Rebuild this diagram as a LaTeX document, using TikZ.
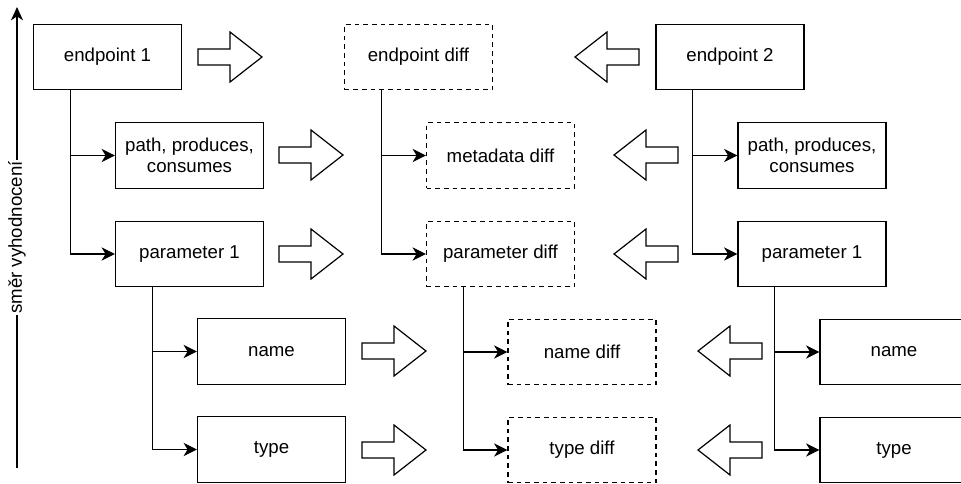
\documentclass[tikz,border=0pt]{standalone}
\usepackage{fontspec}
\setmainfont{Liberation Sans}
\usetikzlibrary{arrows.meta,calc}

\begin{document}
\begin{tikzpicture}[x=0.75pt, y=-0.75pt, line width=0.9pt,
		box/.style={draw, minimum width=111pt, minimum height=49pt, inner sep=0pt, align=center, font=\fontsize{14}{16}\selectfont},
		diffbox/.style={box, dash pattern=on 3.5pt off 3pt},
		branch/.style={-{Stealth[length=10pt, width=10pt, inset=3pt]}}]
		\useasboundingbox (0,0) rectangle (961,483);

		\draw[-{Stealth[length=10pt, width=9pt, inset=3pt]}] (17,468) -- (17,7) node [pos=0.5, rotate=90, fill=white, inner sep=1pt, font=\fontsize{14}{16}\selectfont] {směr vyhodnocení};

		\node[box] (ep1) at (107.5,57) {endpoint 1};
		\node[box] (ppc1) at (189.5,155.5) {path, produces,\\consumes};
		\node[box] (par1) at (189.5,254) {parameter 1};
		\node[box] (name1) at (271.5,351.5) {name};
		\node[box] (type1) at (271.5,449.5) {type};

		\node[diffbox] (epd) at (418.5,57) {endpoint diff};
		\node[diffbox] (metd) at (500.5,155.5) {metadata diff};
		\node[diffbox] (pard) at (500.5,254) {parameter diff};
		\node[diffbox] (named) at (582,352) {name diff};
		\node[diffbox] (typed) at (582,450) {type diff};

		\node[box] (ep2) at (730,57) {endpoint 2};
		\node[box] (ppc2) at (812,155.5) {path, produces,\\consumes};
		\node[box] (par2) at (812,254) {parameter 1};
		\node[box] (name2) at (894,352) {name};
		\node[box] (type2) at (894,450) {type};

		\foreach \top/\mid/\low in {ep1/ppc1/par1, par1/name1/type1, epd/metd/pard, pard/named/typed, ep2/ppc2/par2, par2/name2/type2} {
			\coordinate (A) at ($(\top.south west)!0.25!(\top.south east)$);
			\draw[branch] (A) |- (\mid.west);
			\draw[branch] (A) |- (\low.west);
		}

		\foreach \x/\y in {198/57, 279/155, 279/254, 362/351, 362/450}
			\draw (\x,{\y-8}) -- ++(32,0) -- ++(0,-17) -- ++(32,25) -- ++(-32,25) -- ++(0,-17) -- ++(-32,0) -- cycle;

		\foreach \x/\y in {639/57, 678/155, 678/254, 762/351, 762/450}
			\draw (\x,{\y-8}) -- ++(-32,0) -- ++(0,-17) -- ++(-32,25) -- ++(32,25) -- ++(0,-17) -- ++(32,0) -- cycle;
	\end{tikzpicture}
\end{document}
